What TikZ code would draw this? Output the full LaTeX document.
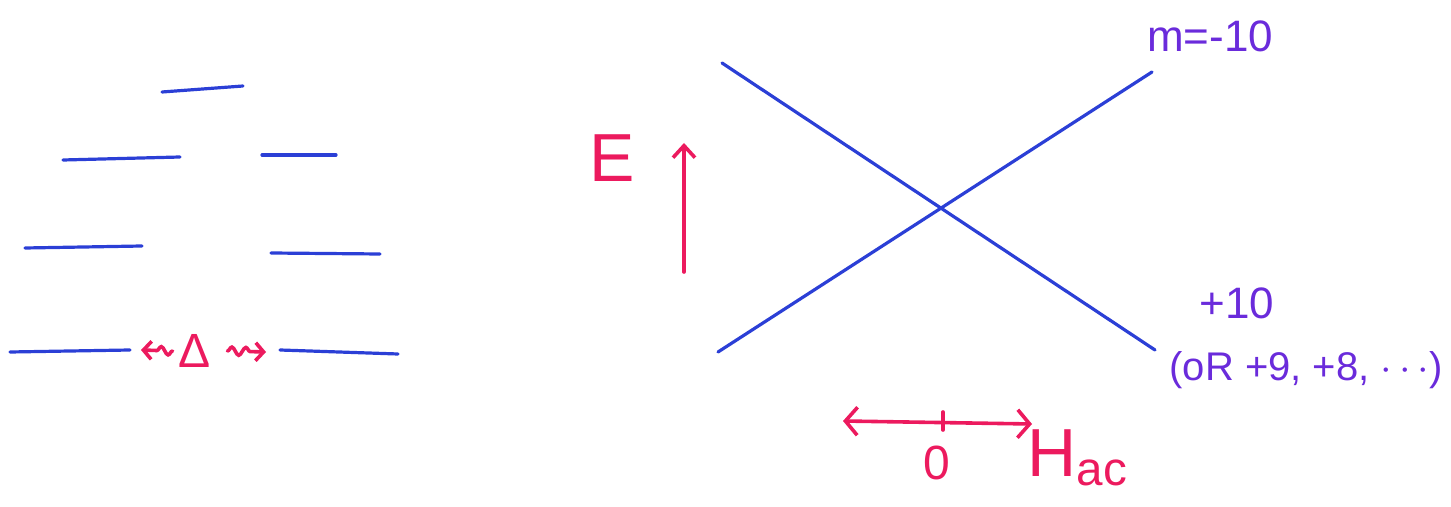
\documentclass[tikz,border=0pt]{standalone}
\usepackage{fontspec}
\setmainfont{Liberation Sans}
\usetikzlibrary{arrows.meta,decorations.pathmorphing}
\definecolor{penblue}{HTML}{2B3FD6}
\definecolor{penred}{HTML}{EC1A5E}
\definecolor{penpurple}{HTML}{6A2BDB}
\tikzset{
  level/.style={penblue, line width=1.6pt, line cap=round},
  band/.style={penblue, line width=1.6pt, line cap=round},
  redarrow/.style={penred, line width=1.8pt, line cap=round},
  redtxt/.style={text=penred, inner sep=0pt},
  purptxt/.style={text=penpurple, inner sep=0pt},
  squig/.style={redarrow, -{Straight Barb[length=4pt,width=9pt]}, decorate,
    decoration={snake, amplitude=2pt, segment length=7pt, post length=5pt}},
}
\begin{document}
\begin{tikzpicture}[x=0.5pt,y=-0.5pt]
\useasboundingbox (0,0) rectangle (1451,507);
% left energy levels
\coordinate (a1) at (162,92); \coordinate (a2) at (243,86);
\coordinate (b1) at (63,160); \coordinate (b2) at (180,157);
\coordinate (c1) at (262,155); \coordinate (c2) at (336,155);
\coordinate (d1) at (25,248); \coordinate (d2) at (142,246);
\coordinate (e1) at (271,253); \coordinate (e2) at (380,254);
\coordinate (f1) at (10,352); \coordinate (f2) at (130,350);
\coordinate (g1) at (280,350); \coordinate (g2) at (398,354);
\draw[level] (a1) -- (a2);
\draw[level] (b1) -- (b2);
\draw[level] (c1) -- (c2);
\draw[level] (d1) -- (d2);
\draw[level] (e1) -- (e2);
\draw[level] (f1) -- (f2);
\draw[level] (g1) -- (g2);
% Delta with squiggly arrows
\node[redtxt, font=\fontsize{24}{24}\selectfont] (delta) at (195,351) {Δ};
\coordinate (dl) at (141,350);
\coordinate (dr) at (266,352);
\draw[squig] ([xshift=-3pt]delta.west) -- (dl);
\draw[squig] ([xshift=8pt]delta.east) -- (dr);
% crossing lines
\coordinate (x1) at (722,63); \coordinate (x2) at (1155,350);
\coordinate (y1) at (718,352); \coordinate (y2) at (1152,72);
\draw[band] (x1) -- (x2);
\draw[band] (y1) -- (y2);
% E axis
\node[redtxt, font=\fontsize{34}{34}\selectfont] (E) at (612,158) {E};
\coordinate (eb) at (684,272); \coordinate (et) at (684,143);
\draw[redarrow, -{Straight Barb[length=6pt,width=11pt]}] (eb) -- (et);
% labels
\node[purptxt, font=\fontsize{22}{22}\selectfont] (mlab) at (1210,36) {m=-10};
\node[purptxt, font=\fontsize{22}{22}\selectfont] (plab) at (1237,303) {+10};
\node[purptxt, font=\fontsize{20}{20}\selectfont] (orlab) at (1306,370) {(oR +9, +8, $\cdots$)};
% H axis
\coordinate (hl) at (843,421); \coordinate (hr) at (1032,424);
\draw[redarrow, {Straight Barb[length=6pt,width=14pt]}-{Straight Barb[length=6pt,width=14pt]}] (hl) -- (hr);
\coordinate (t1) at (943,412); \coordinate (t2) at (943,430);
\draw[redarrow] (t1) -- (t2);
\node[redtxt, font=\fontsize{24}{24}\selectfont] (zero) at (937,463) {0};
\node[redtxt, font=\fontsize{34}{34}\selectfont] (H) at (1078,458) {H\textsubscript{ac}};
\end{tikzpicture}
\end{document}
